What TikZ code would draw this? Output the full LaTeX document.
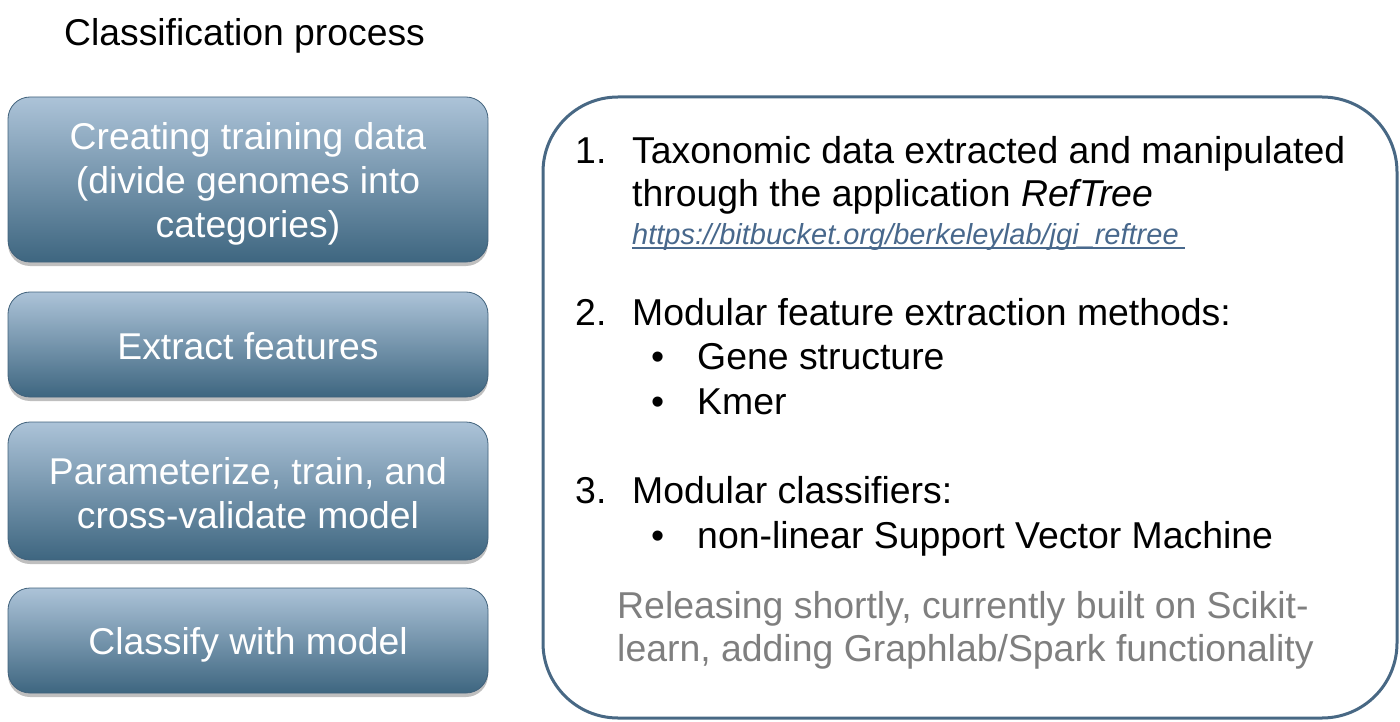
\documentclass[tikz,border=0pt]{standalone}
\usepackage{fontspec}
\setmainfont{Liberation Sans}
\usetikzlibrary{shadows}
\definecolor{boxtop}{RGB}{172,195,216}
\definecolor{boxbot}{RGB}{62,102,128}
\definecolor{boxedge}{RGB}{65,98,124}
\definecolor{frame}{RGB}{72,104,132}
\definecolor{urlblue}{RGB}{72,104,140}
\definecolor{greytext}{RGB}{127,127,127}
\tikzset{
  stepbox/.style={rectangle, rounded corners=22pt, draw=boxedge, line width=0.8pt,
    top color=boxtop, bottom color=boxbot, minimum width=480pt, inner sep=0pt,
    drop shadow={shadow xshift=0pt, shadow yshift=-4pt, fill=black, opacity=0.25}},
  boxtext/.style={anchor=base, text=white, inner sep=0pt, font=\fontsize{37.3}{44}\selectfont},
  bodytext/.style={anchor=base west, inner sep=0pt, font=\fontsize{37.4}{44}\selectfont},
  greyline/.style={bodytext, text=greytext},
}
\begin{document}
\begin{tikzpicture}[x=1pt,y=-1pt]
\useasboundingbox (0,0) rectangle (1400,722);
\node[anchor=base west, inner sep=0pt, font=\fontsize{37.3}{44}\selectfont] (title) at (64,46) {Classification process};

\node[stepbox, minimum height=165pt] (b1) at (248,179.5) {};
\node[stepbox, minimum height=105pt] (b2) at (248,344.5) {};
\node[stepbox, minimum height=138pt] (b3) at (248,491) {};
\node[stepbox, minimum height=105pt] (b4) at (248,640.5) {};

\node[boxtext] (b1a) at (248,150) {Creating training data};
\node[boxtext] (b1b) at (248,193.5) {(divide genomes into};
\node[boxtext] (b1c) at (248,237) {categories)};
\node[boxtext] (b2a) at (248,359) {Extract features};
\node[boxtext] (b3a) at (248,484) {Parameterize, train, and};
\node[boxtext] (b3b) at (248,528) {cross-validate model};
\node[boxtext] (b4a) at (248,654) {Classify with model};

\node[rectangle, draw=frame, line width=3pt, rounded corners=75pt, minimum width=854pt, minimum height=621pt, inner sep=0pt] (info) at (970,407.5) {};

\node[bodytext] (n1) at (575,164) {1.};
\node[bodytext] (t1a) at (632,164) {Taxonomic data extracted and manipulated};
\node[bodytext] (t1b) at (632,207) {through the application \textit{RefTree}};
\node[anchor=base west, inner sep=0pt, text=urlblue, font=\fontsize{29}{34}\selectfont\itshape] (url) at (632,244) {https://bitbucket.org/berkeleylab/jgi\_reftree};
\draw[urlblue, line width=1.2pt] ([yshift=-4pt]url.base west) -- ([yshift=-4pt,xshift=6pt]url.base east);

\node[bodytext] (n2) at (575,325) {2.};
\node[bodytext] (t2) at (632,325) {Modular feature extraction methods:};
\node[bodytext] (d1) at (651,369) {•};
\node[bodytext] (g1) at (697,369) {Gene structure};
\node[bodytext] (d2) at (651,414) {•};
\node[bodytext] (g2) at (697,414) {Kmer};

\node[bodytext] (n3) at (575,503) {3.};
\node[bodytext] (t3) at (632,503) {Modular classifiers:};
\node[bodytext] (d3) at (651,548) {•};
\node[bodytext] (g3) at (697,548) {non-linear Support Vector Machine};

\node[greyline] (r1) at (617,618) {Releasing shortly, currently built on Scikit-};
\node[greyline] (r2) at (617,661) {learn, adding Graphlab/Spark functionality};
\end{tikzpicture}
\end{document}
